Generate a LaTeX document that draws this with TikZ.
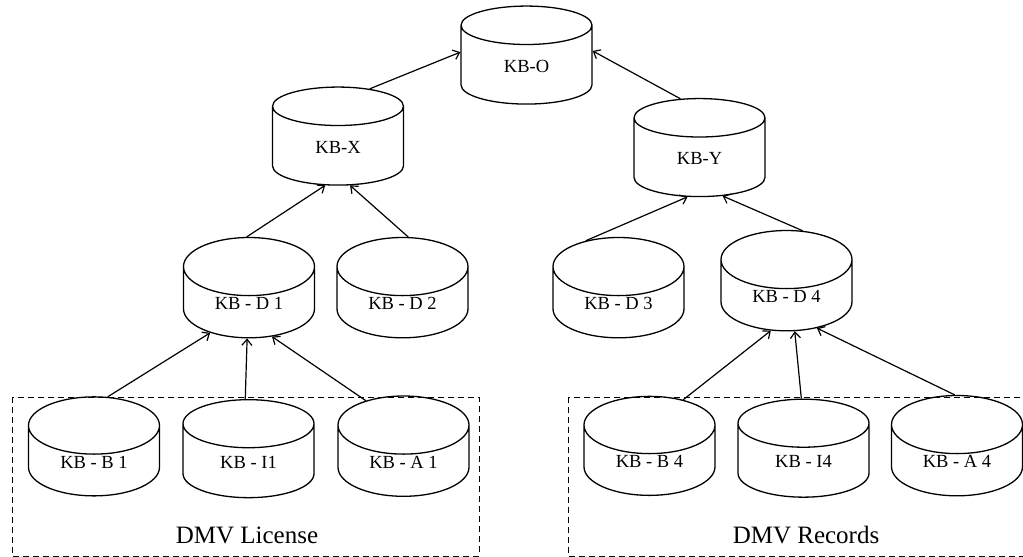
\documentclass[tikz,border=0pt]{standalone}
\usepackage{fontspec}
\setmainfont{Liberation Serif}
\usetikzlibrary{shapes.geometric, arrows.meta}
\tikzset{kbase/.style={cylinder, shape border rotate=90, draw, line width=1.3pt,
                       aspect=0.85, minimum width=131pt, minimum height=98pt,
                       inner sep=0pt, text height=12.5pt, text depth=0pt,
                       execute at begin node={\lower1pt\hbox\bgroup},
                       execute at end node={\egroup},
                       font=\fontsize{18.5}{20}\selectfont},
         groupbox/.style={draw, dashed, line width=0.9pt, dash pattern=on 6pt off 4pt},
         grouplabel/.style={font=\fontsize{25}{28}\selectfont},
         link/.style={->, line width=1.2pt}}

\begin{document}
\begin{tikzpicture}[x=1pt, y=-1pt, >={Straight Barb[length=6pt,width=10pt]}]
        \useasboundingbox (0,0) rectangle (1023,557);

        \node[kbase](kbo)at(526.5,65){KB-O};
        \node[kbase](kbx)at(338,146){KB-X};
        \node[kbase](kby)at(699.5,157.5){KB-Y};
        \node[kbase](kbd1)at(249,302.5){KB - D 1};
        \node[kbase](kbd2)at(402.5,302.5){KB - D 2};
        \node[kbase](kbd3)at(618.5,302.5){KB - D 3};
        \node[kbase](kbd4)at(786.5,295.5){KB - D 4};
        \node[kbase](kbb1)at(94,461){KB - B 1};
        \node[kbase](kbi1)at(248.5,461){KB - I1};
        \node[kbase](kba1)at(403.5,461){KB - A 1};
        \node[kbase](kbb4)at(649.5,460.5){KB - B 4};
        \node[kbase](kbi4)at(803.5,460.5){KB - I4};
        \node[kbase](kba4)at(957,460.5){KB - A 4};

        \draw[groupbox](12,397) rectangle (479,556);
        \draw[groupbox](568,397) rectangle (1030,556);
        \node[grouplabel](lic)at(247,535){DMV License};
        \node[grouplabel](rec)at(806,535){DMV Records};

        \draw[link](kbx.61)--(kbo.169);
        \draw[link](kby.108)--(kbo.12);
        \draw[link](kbd1.92)--(kbx.252);
        \draw[link](kbd2.85)--(kbx.287);
        \draw[link](kbd3.118)--(kby.253);
        \draw[link](kbd4.76)--(kby.301);
        \draw[link](kbb1.78)--(kbd1.218);
        \draw[link](kbi1.93)--(kbd1.267);
        \draw[link](kba1.122)--(kbd1.304);
        \draw[link](kbb4.61)--(kbd4.246);
        \draw[link](kbi4.92)--(kbd4.283);
        \draw[link](kba4.92)--(kbd4.313);
    \end{tikzpicture}
\end{document}
